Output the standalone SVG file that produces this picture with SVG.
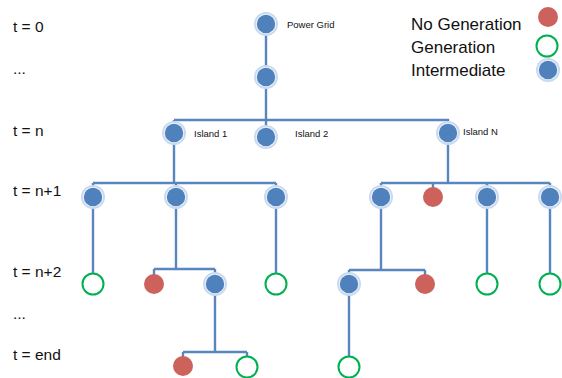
<svg xmlns="http://www.w3.org/2000/svg" width="562" height="378" viewBox="0 0 562 378">
<style>
.t{font-family:"Liberation Sans",Arial,sans-serif;font-size:15.5px;fill:#111}
.lg{font-family:"Liberation Sans",Arial,sans-serif;font-size:17px;fill:#111}
.s{font-family:"Liberation Sans",Arial,sans-serif;font-size:9.5px;fill:#111}
.ln{stroke:#5A86BF;stroke-width:2.4;fill:none}
.halo{fill:#C9D9EE}
.ring{fill:#EEF3FA}
.core{fill:#4F81BD}
.red{fill:#CD615B}
.grn{fill:#fff;stroke:#00B050;stroke-width:2}
</style>
<defs>
<g id="bl"><circle r="12" class="halo"/><circle r="10.2" class="ring"/><circle r="9.2" class="core"/></g>
<circle id="rd" r="10" class="red"/>
<circle id="gr" r="10.5" class="grn"/>
</defs>
<rect width="562" height="378" fill="#fff"/>
<g id="timeline">
<text class="t" x="13" y="32">t = 0</text>
<text class="t" x="13" y="74">...</text>
<text class="t" x="13" y="136">t = n</text>
<text class="t" x="13" y="196">t = n+1</text>
<text class="t" x="13" y="277">t = n+2</text>
<text class="t" x="13" y="319">...</text>
<text class="t" x="13" y="360">t = end</text>
</g>
<g id="legend">
<text class="lg" x="411" y="30">No Generation</text>
<text class="lg" x="411" y="53">Generation</text>
<text class="lg" x="411" y="76">Intermediate</text>
<use href="#rd" x="548" y="17"/>
<use href="#gr" x="547" y="46"/>
<use href="#bl" x="548" y="70"/>
</g>
<g id="connectors">
<path class="ln" d="M266 24V137M174 120H448V183M174 120V183M93 183H276M93 183V284M176 183V269M276 183V284M154 269H215M154 269V284M215 269V352M183 352H247M183 352V366M247 352V366M381 183H550M381 183V270M433 183V197M487 183V284M550 183V284M349 270H425M349 270V367M425 270V284"/>
</g>
<g id="power-grid"><use href="#bl" x="266" y="24"/><text class="s" x="287" y="28">Power Grid</text></g>
<g id="n-mid"><use href="#bl" x="266" y="77"/></g>
<g id="island-1"><use href="#bl" x="174" y="133"/><text class="s" x="194" y="137">Island 1</text></g>
<g id="island-2"><use href="#bl" x="266" y="137"/><text class="s" x="295" y="137">Island 2</text></g>
<g id="island-n"><use href="#bl" x="448" y="133"/><text class="s" x="463" y="135">Island N</text></g>
<g id="a1"><use href="#bl" x="93" y="197"/></g>
<g id="a2"><use href="#bl" x="176" y="197"/></g>
<g id="a3"><use href="#bl" x="276" y="197"/></g>
<g id="b1"><use href="#bl" x="381" y="197"/></g>
<g id="b2"><use href="#rd" x="433" y="197"/></g>
<g id="b3"><use href="#bl" x="487" y="197"/></g>
<g id="b4"><use href="#bl" x="550" y="197"/></g>
<g id="c1"><use href="#gr" x="93" y="284"/></g>
<g id="c2"><use href="#rd" x="154" y="284"/></g>
<g id="c3"><use href="#bl" x="215" y="284"/></g>
<g id="c4"><use href="#gr" x="276" y="284"/></g>
<g id="c5"><use href="#bl" x="349" y="284"/></g>
<g id="c6"><use href="#rd" x="425" y="284"/></g>
<g id="c7"><use href="#gr" x="487" y="284"/></g>
<g id="c8"><use href="#gr" x="550" y="284"/></g>
<g id="d1"><use href="#rd" x="183" y="366"/></g>
<g id="d2"><use href="#gr" x="247" y="367"/></g>
<g id="d3"><use href="#gr" x="349" y="367"/></g>
</svg>
